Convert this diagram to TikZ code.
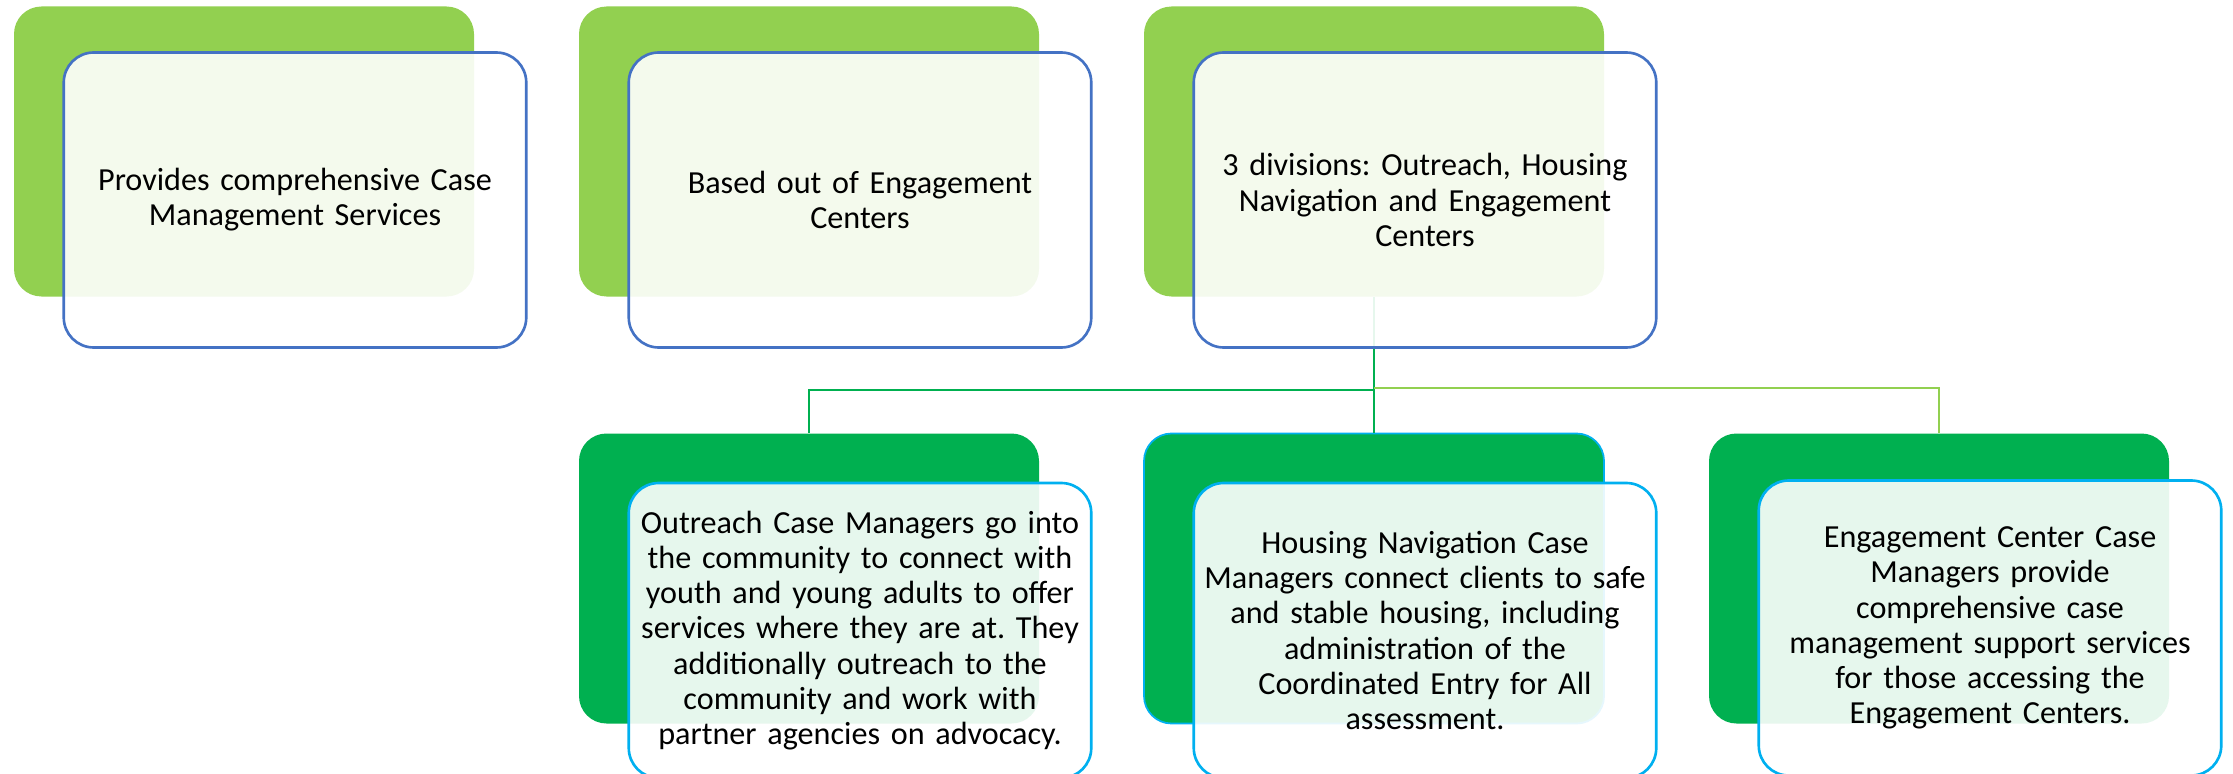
\documentclass[tikz,border=0pt]{standalone}
\usepackage{fontspec}
\setmainfont{Carlito}
\frenchspacing
\definecolor{tileGreen}{RGB}{146,208,80}
\definecolor{teamGreen}{RGB}{0,176,80}
\definecolor{tileBlue}{RGB}{68,114,196}
\definecolor{teamBlue}{RGB}{0,176,240}
\tikzset{
  backTile/.style={rounded corners=0.55cm,minimum width=9.2cm,minimum height=5.8cm,inner sep=0pt},
  frontTile/.style={rounded corners=0.6cm,fill=white,fill opacity=0.9,text opacity=1,line width=1.5pt,
                    minimum width=9.25cm,minimum height=5.9cm,text width=9.1cm,align=center,inner sep=0pt,
                    font=\fontsize{18.3}{20}\selectfont},
  link/.style={line width=1.3pt}
}

\begin{document}
\begin{tikzpicture}
        \useasboundingbox (0,0) rectangle (44.66,15.46);

        % Green backing tiles, top row
        \node[backTile,fill=tileGreen] (caseBg) at (4.88,12.43) {};
        \node[backTile,fill=tileGreen] (baseBg) at (16.18,12.43) {};
        \node[backTile,fill=tileGreen] (divBg) at (27.48,12.43) {};

        % Green backing tiles, bottom row
        \node[backTile,fill=teamGreen] (outBg) at (16.18,3.89) {};
        \node[backTile,fill=teamGreen,draw=teamBlue,line width=1pt] (housBg) at (27.48,3.89) {};
        \node[backTile,fill=teamGreen] (engBg) at (38.78,3.89) {};

        % Branches from the divisions tile
        \coordinate (bus) at (0,7.66);
        \draw[link,teamGreen] (divBg.south) -- (divBg.south |- bus) -| (outBg.north);
        \draw[link,teamGreen] (divBg.south) -- (housBg.north);
        \draw[link,tileGreen] ([yshift=0.04cm]divBg.south |- bus) -| (engBg.north);

        % Text tiles, top row
        \node[frontTile,draw=tileBlue] (case) at (5.90,11.46) {
            Provides comprehensive Case\\
            Management Services
        };
        \node[frontTile,draw=tileBlue] (base) at (17.20,11.46) {
            Based out of Engagement\\
            Centers
        };
        \node[frontTile,draw=tileBlue] (div) at (28.50,11.46) {
            3 divisions: Outreach, Housing\\
            Navigation and Engagement\\
            Centers
        };

        % Text tiles, bottom row
        \node[frontTile,draw=teamBlue] (out) at (17.20,2.85) {
            Outreach Case Managers go into\\
            the community to connect with\\
            youth and young adults to offer\\
            services where they are at. They\\
            additionally outreach to the\\
            community and work with\\
            partner agencies on advocacy.
        };
        \node[frontTile,draw=teamBlue] (hous) at (28.50,2.85) {
            Housing Navigation Case\\
            Managers connect clients to safe\\
            and stable housing, including\\
            administration of the\\
            Coordinated Entry for All\\
            assessment.
        };
        \node[frontTile,draw=teamBlue] (eng) at (39.80,2.90) {
            Engagement Center Case\\
            Managers provide\\
            comprehensive case\\
            management support services\\
            for those accessing the\\
            Engagement Centers.
        };
    \end{tikzpicture}
\end{document}
